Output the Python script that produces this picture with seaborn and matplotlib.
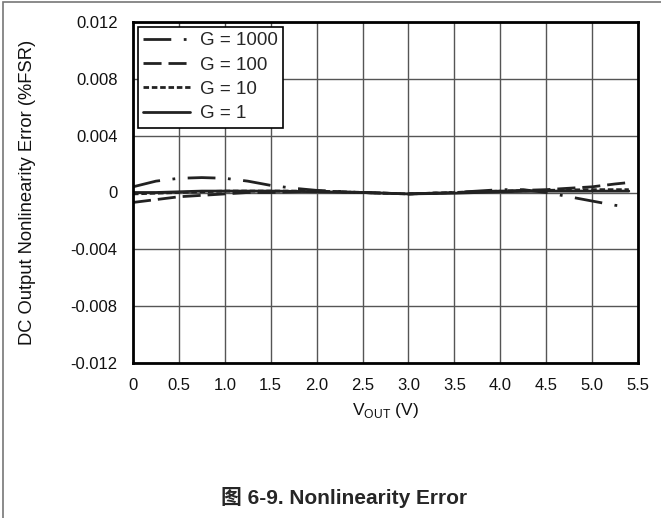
import matplotlib
matplotlib.use("Agg")
import matplotlib.pyplot as plt
import seaborn as sns
import pandas as pd
from matplotlib.patches import Rectangle

# ---- data ----
vout = [0.0, 0.25, 0.5, 0.75, 1.0, 1.25, 1.5, 1.75, 2.0, 2.5, 3.0, 3.5, 4.0, 4.25, 4.5, 4.75, 5.0, 5.25, 5.4]
g1000 = [0.0004, 0.0008, 0.0010, 0.00105, 0.0010, 0.0008, 0.0005, 0.0003, 0.00015, 0.0, -0.0001, 0.0,
         0.0002, 0.0002, 0.0, -0.0003, -0.0006, -0.0009, -0.0010]
g100 = [-0.0007, -0.0005, -0.0003, -0.0002, -0.0001, 0.0, 0.0, 0.00005, 0.0001, 0.0, -0.0001, 0.0,
        0.0001, 0.00015, 0.0002, 0.0003, 0.0004, 0.0006, 0.0007]
g10 = [-0.0001, -0.00005, 0.0, 0.00005, 0.0001, 0.0001, 0.0001, 0.0001, 0.0001, 0.0, -0.0001, 0.0,
       0.0001, 0.00012, 0.00015, 0.00018, 0.0002, 0.0002, 0.0002]
g1 = [0.0, 0.0, 0.00005, 0.0001, 0.0001, 0.0001, 0.0001, 0.00008, 0.00005, 0.0, -0.0001, -0.00005,
      0.00005, 0.00008, 0.0001, 0.0001, 0.0001, 0.0001, 0.0001]
labels = ["G = 1000", "G = 100", "G = 10", "G = 1"]
x_ticks = [0, 0.5, 1.0, 1.5, 2.0, 2.5, 3.0, 3.5, 4.0, 4.5, 5.0, 5.5]
x_tick_labels = ["0", "0.5", "1.0", "1.5", "2.0", "2.5", "3.0", "3.5", "4.0", "4.5", "5.0", "5.5"]
y_ticks = [-0.012, -0.008, -0.004, 0, 0.004, 0.008, 0.012]
y_tick_labels = ["-0.012", "-0.008", "-0.004", "0", "0.004", "0.008", "0.012"]

sns.set_theme(style="white")
plt.rcParams['font.family'] = ['Liberation Sans', 'Noto Sans CJK SC', 'DejaVu Sans']

fig = plt.figure(figsize=(6.61, 5.18), dpi=100)
ax = fig.add_axes([133/661, 1-363/518, (638-133)/661, (363-22)/518])

ink = "#222222"
lw = 2.0
styles = [(10, 4.5, 1, 4.5), (6.5, 2.5), (2, 1), None]
series = [g1000, g100, g10, g1]
for vals, lab, ds in zip(series, labels, styles):
    sns.lineplot(x=vout, y=vals, ax=ax, color=ink, linewidth=lw, label=lab, legend=False)
    line = ax.lines[-1]
    if ds is not None:
        line.set_dashes(ds)

ax.set_xlim(0, 5.5)
ax.set_ylim(-0.012, 0.012)
ax.set_xticks(x_ticks)
ax.set_xticklabels(x_tick_labels)
ax.set_yticks(y_ticks)
ax.set_yticklabels(y_tick_labels)
ax.tick_params(axis='y', labelsize=12, length=0, pad=11, colors="#111111")
ax.tick_params(axis='x', labelsize=12, length=0, pad=10.5, colors="#111111")
ax.grid(True, color="#555555", linewidth=1.0)
ax.set_axisbelow(True)
for sp in ax.spines.values():
    sp.set_visible(True)
    sp.set_color("black")
    sp.set_linewidth(2)

ax.set_xlabel("V$_{\\mathregular{OUT}}$ (V)", fontsize=12.5, labelpad=6, color="#111111")
ax.set_ylabel("DC Output Nonlinearity Error (%FSR)", fontsize=13.2, labelpad=25, color="#111111")

handles = ax.lines[:4]
leg = ax.legend(handles, labels, loc="upper left", fontsize=13.5, frameon=True, fancybox=False,
                edgecolor="black", framealpha=1, handlelength=2.5, handletextpad=0.5,
                borderaxespad=0.25, borderpad=0.3, labelspacing=0.38)
leg.get_frame().set_linewidth(1.2)

fig.text(344/661, 1-497/518, "图 6-9. Nonlinearity Error", ha="center", va="center",
         fontsize=15, fontweight="bold",
         family=['Liberation Sans', 'Noto Sans CJK SC', 'DejaVu Sans'])

# outer frame (top and left edge visible)
fig.patches.append(Rectangle((3/661, -0.1), 1.2, 1 - 2/518 + 0.1, transform=fig.transFigure,
                             fill=False, edgecolor="#777777", linewidth=1.2))

fig.savefig("out.png", dpi=100)
